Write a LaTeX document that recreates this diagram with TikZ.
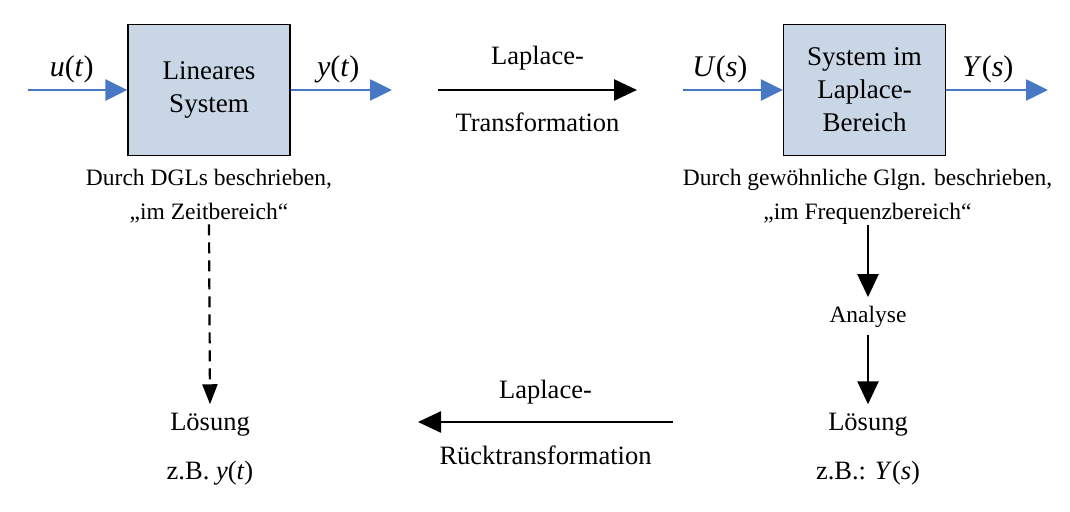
\documentclass[tikz,border=0pt]{standalone}
\usepackage{fontspec}
\setmainfont{Liberation Serif}
\usetikzlibrary{arrows.meta,positioning}
\definecolor{boxFill}{RGB}{200,214,229}
\definecolor{sigBlue}{RGB}{72,120,196}
\tikzset{
	% block of the system
	sysBox/.style={
		rectangle,
		draw=black, line width=1.3pt,
		fill=boxFill,
		minimum width=162pt,
		minimum height=131pt,
		align=center,
		font=\fontsize{27}{33}\selectfont},
	% blue signal arrow
	sigArrow/.style={
		-{Triangle[length=22pt,width=21pt]},
		sigBlue, line width=2.6pt},
	% black transformation arrow
	trafoArrow/.style={
		-{Triangle[length=23pt,width=21pt]},
		line width=2.6pt},
	sigLabel/.style={text=black, font=\fontsize{30}{33}\selectfont, inner sep=1pt},
	bigText/.style={font=\fontsize{26.5}{33}\selectfont, inner sep=1pt},
	descText/.style={align=center, font=\fontsize{23.5}{34}\selectfont, inner sep=1pt}
}
\begin{document}
\begin{tikzpicture}[x=1pt,y=1pt]
		\useasboundingbox (0,0) rectangle (1070,511);
		
		%systems
		\node[sysBox] (linSys) at (209,421) {Lineares\\System};
		\node[sysBox, text depth=0pt] (lapSys) at (864.5,421) {System im\\Laplace-\\Bereich};
		
		%signals
		\coordinate (uIn) at (28,421);
		\coordinate (yOut) at (392,421);
		\coordinate (UIn) at (683,421);
		\coordinate (YOut) at (1048,421);
		\draw[sigArrow] (uIn) -- node[sigLabel, above=5pt, pos=0.44] {\textit{u}(\textit{t})} (linSys.west);
		\draw[sigArrow] (linSys.east) -- node[sigLabel, above=5pt, pos=0.47] {\textit{y}(\textit{t})} (yOut);
		\draw[sigArrow] (UIn) -- node[sigLabel, above=5pt, pos=0.37] {\textit{U}(\textit{s})} (lapSys.west);
		\draw[sigArrow] (lapSys.east) -- node[sigLabel, above=5pt, pos=0.41] {\textit{Y}(\textit{s})} (YOut);
		
		%descriptions
		\node[descText, below=12pt of linSys] (linDesc) {Durch DGLs beschrieben,\\„im Zeitbereich“};
		\node[descText, below=12pt of lapSys.south, xshift=3pt] (lapDesc) {Durch gewöhnliche Glgn. beschrieben,\\„im Frequenzbereich“};
		
		%laplace transformation
		\coordinate (trafoA) at (438,421);
		\coordinate (trafoB) at (637,421);
		\draw[trafoArrow] (trafoA) -- node[bigText, above=18pt] {Laplace-} node[bigText, below=21pt] {Transformation} (trafoB);
		
		%solutions
		\node[bigText] (solL) at (210,86) {Lösung};
		\node[bigText, below=22pt of solL] (exL) {z.B. \textit{y}(\textit{t})};
		\node[descText] (analyse) at (868,194) {Analyse};
		\node[bigText] (solR) at (868,86) {Lösung};
		\node[bigText, below=22pt of solR] (exR) {z.B.: \textit{Y}(\textit{s})};
		
		\draw[dashed, dash pattern=on 11pt off 7pt, line width=2.2pt, -{Triangle[length=20pt,width=15pt]}] (linDesc.south) -- ([yshift=8pt]solL.north);
		\draw[trafoArrow] (868,286) -- ([yshift=8pt]analyse.north);
		\draw[trafoArrow] ([yshift=-6pt]analyse.south) -- ([yshift=8pt]solR.north);
		
		%inverse transformation
		\coordinate (backA) at (673,89);
		\coordinate (backB) at (418,89);
		\draw[trafoArrow] (backA) -- node[bigText, above=16pt] {Laplace-} node[bigText, below=22pt] {Rücktransformation} (backB);
		
\end{tikzpicture}
\end{document}
